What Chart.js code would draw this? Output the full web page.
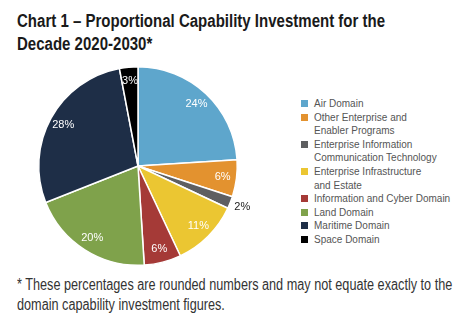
<!DOCTYPE html>
<html>
<head>
<meta charset="utf-8">
<script src="https://cdn.jsdelivr.net/npm/chart.js@4.4.0/dist/chart.umd.min.js"></script>
<style>
html,body{margin:0;padding:0;background:#fff;}
body{width:474px;height:329px;position:relative;overflow:hidden;font-family:"Liberation Sans",Arial,sans-serif;}
.ln{position:absolute;white-space:nowrap;transform-origin:0 0;}
.t{left:17px;font-size:18px;font-weight:bold;color:#1a1a1a;line-height:20px;}
.f{left:17px;font-size:16px;color:#333;line-height:18px;}
#legend{position:absolute;left:301px;top:97px;font-family:"Liberation Sans",Arial,sans-serif;font-size:10px;color:#555;line-height:13.6px;}
#legend .it{position:relative;padding-left:13px;}
#legend .sw{position:absolute;left:0;top:3px;width:7px;height:7px;}
#wrap{position:absolute;left:0;top:56px;width:280px;height:220px;}
</style>
</head>
<body>
<div class="ln t" id="t1" data-w="368" style="top:11px">Chart 1 – Proportional Capability Investment for the</div>
<div class="ln t" id="t2" style="top:34px">Decade 2020-2030*</div>
<div id="wrap"><canvas id="c" width="280" height="220"></canvas></div>
<div id="legend"></div>
<div class="ln f" id="f1" data-w="435" style="top:276px">* These percentages are rounded numbers and may not equate exactly to the</div>
<div class="ln f" id="f2" style="top:296px">domain capability investment figures.</div>
<script>
const categories = ["Air Domain","Other Enterprise and Enabler Programs","Enterprise Information Communication Technology","Enterprise Infrastructure and Estate","Information and Cyber Domain","Land Domain","Maritime Domain","Space Domain"];
const legendLines = [["Air Domain"],["Other Enterprise and","Enabler Programs"],["Enterprise Information","Communication Technology"],["Enterprise Infrastructure","and Estate"],["Information and Cyber Domain"],["Land Domain"],["Maritime Domain"],["Space Domain"]];
const values = [24, 6, 2, 11, 6, 20, 28, 3];
const colors = ["#5ea6cc","#e3922f","#5e5f61","#ebc632","#a53a37","#7fa24b","#1e2e47","#000000"];

// condense text lines to match the reference's narrow typeface
function condense(a,b){
  const e1=document.getElementById(a), e2=document.getElementById(b);
  const s=(+e1.dataset.w)/e1.offsetWidth;
  [e1,e2].forEach(e=>e.style.transform='scaleX('+s+')');
}
condense('t1','t2');
condense('f1','f2');

const leg = document.getElementById('legend');
legendLines.forEach((lines,i)=>{
  const d=document.createElement('div');d.className='it';
  d.innerHTML='<span class="sw" style="background:'+colors[i]+'"></span>'+lines.join('<br>');
  leg.appendChild(d);
});

const labelPlugin = {
  id:'pieLabels',
  afterDatasetsDraw(chart){
    const ctx=chart.ctx;
    const meta=chart.getDatasetMeta(0);
    ctx.save();
    ctx.font='11px "Liberation Sans", Arial, sans-serif';
    ctx.textAlign='center';ctx.textBaseline='middle';
    meta.data.forEach((arc,i)=>{
      const p=arc.getProps(['x','y','startAngle','endAngle','outerRadius'],true);
      const mid=(p.startAngle+p.endAngle)/2;
      const small=values[i]<3;
      const r=p.outerRadius*(small?1.13:0.86);
      const x=p.x+Math.cos(mid)*r, y=p.y+Math.sin(mid)*r;
      ctx.fillStyle=small?'#222':'#fff';
      ctx.fillText(values[i]+'%',x,y);
    });
    ctx.restore();
  }
};

new Chart(document.getElementById('c'),{
  type:'pie',
  data:{labels:categories,datasets:[{data:values,backgroundColor:colors,borderColor:'#fff',borderWidth:1.5}]},
  options:{
    responsive:false,animation:false,
    layout:{padding:{left:38,right:42,top:10,bottom:10}},
    plugins:{legend:{display:false},tooltip:{enabled:false}}
  },
  plugins:[labelPlugin]
});
</script>
</body>
</html>
